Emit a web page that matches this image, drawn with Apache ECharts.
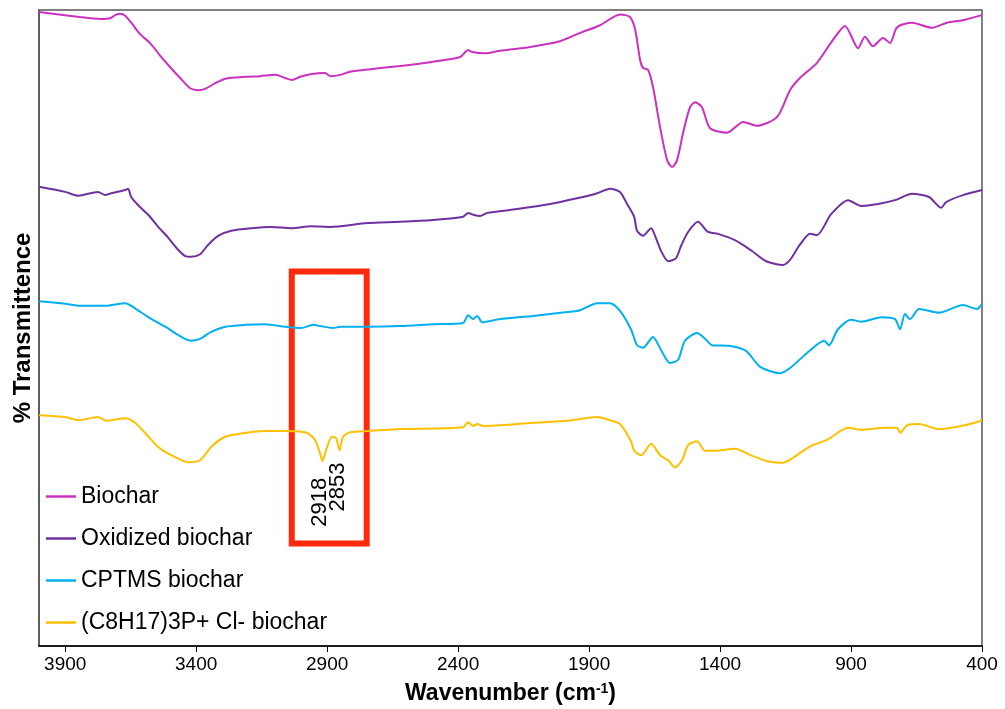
<!DOCTYPE html>
<html><head><meta charset="utf-8">
<script src="https://cdn.jsdelivr.net/npm/echarts@6/dist/echarts.min.js"></script>
<style>html,body{margin:0;padding:0;background:#fff}#c{width:1005px;height:709px}</style>
</head><body><div id="c"></div>
<script>
// Wavenumber (cm-1) / % Transmittance pairs
const biocharWn = [4000,3845,3766,3728,3709,3690,3671,3644,3614,3576,3537,3499,3461,3423,3392,3366,3327,3289,3213,3156,3098,3060,3034,3003,2965,2908,2889,2850,2812,2736,2621,2507,2392,2362,2347,2297,2240,2125,2011,1934,1858,1782,1744,1724,1705,1694,1675,1656,1629,1602,1583,1564,1541,1515,1495,1469,1438,1373,1312,1259,1182,1133,1095,1030,969,923,873,847,816,778,751,724,667,591,534,473,400];
const biocharT = [99.7,98.9,98.6,98.7,99.2,99.4,99.1,97.8,96.2,94.8,92.8,91.0,89.3,87.7,87.4,87.6,88.5,89.2,89.5,89.6,89.8,89.3,89.0,89.5,89.9,90.1,89.6,89.8,90.3,90.7,91.2,91.8,92.6,93.7,93.4,93.2,93.6,94.2,95.1,96.4,97.6,99.3,98.9,96.9,92.1,90.9,90.6,87.9,81.6,76.4,75.3,76.4,80.7,84.7,85.5,84.7,81.4,80.7,82.4,81.8,83.2,87.4,89.3,91.7,95.3,97.5,94.0,95.8,94.3,95.6,94.8,97.3,98.0,97.2,98.0,98.4,99.2];

const oxidizedWn = [4000,3900,3850,3775,3747,3724,3671,3660,3648,3621,3583,3545,3507,3469,3442,3419,3385,3354,3316,3266,3190,3114,3037,2961,2889,2747,2621,2495,2381,2362,2343,2316,2289,2175,2049,1946,1869,1820,1782,1755,1728,1717,1694,1663,1648,1625,1598,1568,1549,1522,1484,1446,1408,1343,1278,1224,1160,1133,1095,1056,1030,976,911,862,797,732,667,602,556,537,473,400];
const oxidizedT = [72.2,71.4,70.8,71.4,70.9,71.2,71.7,71.9,70.6,69.3,67.8,65.9,64.2,62.3,61.3,61.2,61.6,63.1,64.5,65.3,65.7,65.9,65.7,66.0,65.9,66.5,66.7,67.0,67.5,68.1,67.8,67.6,68.1,68.7,69.5,70.4,71.2,71.9,71.4,69.5,67.5,65.3,64.5,65.7,64.5,62.1,60.5,61.0,62.9,65.1,66.7,65.1,64.8,63.8,62.1,60.5,59.9,60.7,63.1,64.8,64.6,67.9,70.1,69.2,69.5,70.1,71.1,70.6,68.9,69.8,70.9,71.7];

const cptmsWn = [4000,3900,3850,3747,3671,3633,3583,3518,3469,3423,3385,3343,3289,3213,3137,3060,2999,2953,2927,2877,2850,2747,2621,2495,2381,2362,2343,2327,2308,2240,2114,1984,1934,1869,1820,1782,1740,1717,1694,1656,1625,1591,1560,1534,1488,1457,1431,1366,1301,1247,1171,1133,1056,1003,984,950,900,862,782,732,713,694,675,640,564,473,419,400];
const cptmsT = [54.2,53.8,53.5,53.5,53.9,53.1,51.7,50.2,48.9,48.0,48.3,49.4,50.2,50.5,50.6,50.2,50.0,50.5,50.3,50.0,50.2,50.2,50.3,50.6,50.8,52.0,51.4,51.9,50.9,51.4,51.9,52.5,52.8,53.9,53.9,52.7,49.8,47.3,46.9,48.6,46.5,44.5,45.0,48.0,49.2,48.3,47.3,47.2,46.4,43.9,42.9,43.7,46.5,48.0,47.3,49.8,51.3,51.0,51.7,51.4,49.8,52.2,51.4,53.0,52.4,53.6,53.0,53.8];

const phosphWn = [4000,3900,3850,3775,3743,3671,3633,3595,3545,3495,3431,3385,3343,3289,3213,3137,3060,2984,2965,2946,2927,2918,2900,2881,2866,2853,2839,2812,2747,2621,2381,2362,2343,2327,2305,2114,1984,1869,1820,1782,1740,1728,1701,1663,1629,1598,1572,1545,1522,1488,1457,1419,1343,1278,1224,1160,1121,1056,992,911,862,770,724,713,686,640,564,446,400];
const phosphT = [36.3,36.0,35.5,36.0,35.4,35.8,35.1,33.5,31.3,30.0,28.9,29.2,31.3,32.9,33.5,33.8,33.8,33.6,33.2,32.4,30.3,29.1,31.3,32.9,32.7,30.8,32.9,33.6,33.8,34.1,34.4,35.2,34.6,34.9,34.6,35.1,35.4,36.0,35.5,34.9,32.2,30.7,30.0,31.8,30.0,29.2,28.1,29.2,31.6,32.2,30.7,30.7,31.0,29.9,29.1,28.8,29.6,31.4,32.4,34.3,34.0,34.3,34.3,33.5,34.7,34.9,34.1,34.9,35.5];

const seriesNames = ['Biochar','Oxidized biochar','CPTMS biochar','(C8H17)3P+ Cl- biochar'];
const seriesColors = ['#cc30c0','#7030a0','#00b0f0','#ffc000'];
const xTickValues = [3900,3400,2900,2400,1900,1400,900,400];
const peakWn = [2918, 2853];
const peakLabels = ['2918','2853'];
const boxWn = [3035, 2749];
const boxT = [58.9, 16.1];

const pairs = (xs, ys) => xs.map((x, i) => [x, ys[i]]);
const allData = [pairs(biocharWn, biocharT), pairs(oxidizedWn, oxidizedT), pairs(cptmsWn, cptmsT), pairs(phosphWn, phosphT)];

const sans = "'Liberation Sans',Arial,Helvetica,sans-serif";
const series = allData.map((d, i) => ({
  name: seriesNames[i], type: 'line', data: d, symbol: 'none', showSymbol: false, smooth: 0.25,
  lineStyle: {color: seriesColors[i], width: 2}, itemStyle: {color: seriesColors[i]},
  z: 3, animation: false
}));
series[3].markArea = {
  silent: true,
  itemStyle: {color: 'rgba(0,0,0,0)', borderColor: '#ff2a0a', borderWidth: 6},
  data: [[{coord: [boxWn[0], boxT[0]]}, {coord: [boxWn[1], boxT[1]]}]]
};
series[3].markPoint = {
  silent: true, symbol: 'circle', symbolSize: 0,
  data: [
    {coord: [peakWn[0] + 9, 22.6], value: peakLabels[0]},
    {coord: [peakWn[1] + 5, 25.0], value: peakLabels[1]}
  ],
  label: {show: true, position: 'inside', rotate: 90, formatter: p => p.value, color: '#000', fontSize: 22, fontFamily: sans}
};

const chart = echarts.init(document.getElementById('c'));
chart.setOption({
  animation: false,
  backgroundColor: '#fff',
  grid: {left: 39, right: 23, top: 10, bottom: 63, show: true, borderColor: '#555', borderWidth: 1.5, containLabel: false, outerBoundsMode: 'none'},
  legend: {
    orient: 'vertical', left: 41, top: 480, itemWidth: 30, itemHeight: 2.5, itemGap: 19, icon: 'rect',
    data: seriesNames, textStyle: {fontSize: 23, color: '#000', fontFamily: sans}
  },
  xAxis: {
    type: 'value', min: 400, max: 4000, inverse: true, interval: 500,
    axisLine: {show: true, lineStyle: {color: '#000', width: 1.5}},
    axisTick: {show: true, length: 6, lineStyle: {color: '#000'}},
    splitLine: {show: false},
    axisLabel: {show: true, showMaxLabel: false, fontSize: 19, color: '#000', margin: 9, fontFamily: sans,
      formatter: v => xTickValues.includes(v) ? String(v) : ''},
    name: 'Wavenumber (cm{sup|-1})', nameLocation: 'middle', nameGap: 36,
    nameTextStyle: {fontSize: 23, fontWeight: 'bold', color: '#000', fontFamily: sans,
      rich: {sup: {fontSize: 14, fontWeight: 'bold', verticalAlign: 'top', padding: [0,0,9,0], fontFamily: sans}}}
  },
  yAxis: {
    type: 'value', min: 0, max: 100,
    axisLine: {show: true, lineStyle: {color: '#555', width: 1.5}},
    axisTick: {show: false}, axisLabel: {show: false}, splitLine: {show: false},
    name: '% Transmittence', nameLocation: 'middle', nameGap: 4,
    nameTextStyle: {fontSize: 24, fontWeight: 'bold', color: '#000', fontFamily: sans}
  },
  series: series
});
</script></body></html>
